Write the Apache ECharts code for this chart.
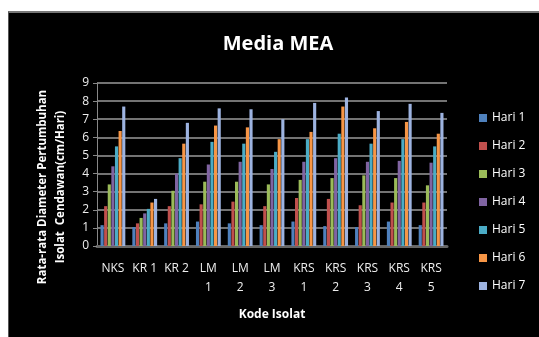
<!DOCTYPE html>
<html>
<head>
<meta charset="utf-8">
<script src="https://cdn.jsdelivr.net/npm/echarts@6/dist/echarts.min.js"></script>
<style>
  html, body { margin: 0; padding: 0; background: #fff; }
  #frame { position: absolute; left: 8px; top: 11px; width: 531px; height: 326px;
           background: #000; border-top: 2px solid #777; border-left: 1px solid #555; box-sizing: border-box; }
  #chart { position: absolute; left: 0; top: 0; width: 539px; height: 337px; }
</style>
</head>
<body>
<div id="frame"></div>
<div id="chart"></div>
<script>
var categories = ["NKS", "KR 1", "KR 2", "LM\n1", "LM\n2", "LM\n3", "KRS\n1", "KRS\n2", "KRS\n3", "KRS\n4", "KRS\n5"];
var hari1 = [1.15, 1.05, 1.25, 1.35, 1.25, 1.15, 1.35, 1.1, 1.05, 1.35, 1.15];
var hari2 = [2.2, 1.25, 2.2, 2.3, 2.45, 2.2, 2.65, 2.6, 2.25, 2.4, 2.4];
var hari3 = [3.4, 1.55, 3.05, 3.55, 3.55, 3.4, 3.65, 3.75, 3.9, 3.75, 3.35];
var hari4 = [4.4, 1.8, 4.0, 4.5, 4.65, 4.25, 4.65, 4.85, 4.65, 4.7, 4.6];
var hari5 = [5.5, 2.05, 4.85, 5.75, 5.65, 5.2, 5.9, 6.2, 5.65, 5.9, 5.5];
var hari6 = [6.35, 2.4, 5.65, 6.65, 6.55, 5.9, 6.3, 7.7, 6.5, 6.85, 6.2];
var hari7 = [7.7, 2.6, 6.8, 7.6, 7.55, 7.0, 7.9, 8.2, 7.45, 7.85, 7.35];

var seriesNames = ["Hari 1", "Hari 2", "Hari 3", "Hari 4", "Hari 5", "Hari 6", "Hari 7"];
var seriesData = [hari1, hari2, hari3, hari4, hari5, hari6, hari7];
var colors = ["#4F81BD", "#C0504D", "#9BBB59", "#8064A2", "#4BACC6", "#F79646", "#9DB3E0"];

var chart = echarts.init(document.getElementById("chart"));
var font = "'Open Sans', 'DejaVu Sans', sans-serif";

var option = {
  backgroundColor: "transparent",
  color: colors,
  textStyle: { fontFamily: font },
  title: {
    text: "Media MEA",
    left: 273,
    textAlign: "center",
    top: 29,
    textStyle: { color: "#fff", fontSize: 20, fontWeight: "bold", fontFamily: font }
  },
  legend: {
    orient: "vertical",
    left: 474,
    top: 107,
    itemWidth: 8,
    itemHeight: 8,
    itemGap: 16,
    icon: "rect",
    textStyle: { color: "#fff", fontSize: 12, fontFamily: font },
    data: seriesNames
  },
  // y axis title placed by hand so it sits lower than the plot centre, as in the picture
  graphic: [{
    type: "text",
    x: 52,
    y: 187,
    rotation: Math.PI / 2,
    style: {
      text: "Rata-rata Diameter Pertumbuhan\nIsolat  Cendawan(cm/Hari)",
      fill: "#fff",
      font: "bold 11.5px " + font,
      lineHeight: 18,
      align: "center",
      verticalAlign: "middle"
    }
  }],
  grid: { left: 97, right: 92, top: 83, bottom: 91 },
  xAxis: {
    type: "category",
    data: categories,
    axisLine: { lineStyle: { color: "#666", width: 3 } },
    axisTick: { show: false },
    axisLabel: { color: "#eee", fontSize: 12, margin: 13, lineHeight: 19, interval: 0, fontFamily: font },
    name: "Kode Isolat",
    nameLocation: "middle",
    nameGap: 63,
    nameTextStyle: { color: "#fff", fontSize: 12, fontWeight: "bold", fontFamily: font }
  },
  yAxis: {
    type: "value",
    min: 0,
    max: 9,
    interval: 1,
    axisLine: { show: true, lineStyle: { color: "#888" } },
    axisTick: { show: true, length: 4, lineStyle: { color: "#888" } },
    splitLine: { lineStyle: { color: "#9a9a9a", width: 1.5 } },
    axisLabel: { color: "#eee", fontSize: 12, margin: 8, fontFamily: font }
  },
  series: seriesNames.map(function (n, i) {
    return {
      name: n,
      type: "bar",
      data: seriesData[i],
      barGap: "15%",
      barCategoryGap: "22%",
      itemStyle: { color: colors[i] }
    };
  })
};

chart.setOption(option);
</script>
</body>
</html>
